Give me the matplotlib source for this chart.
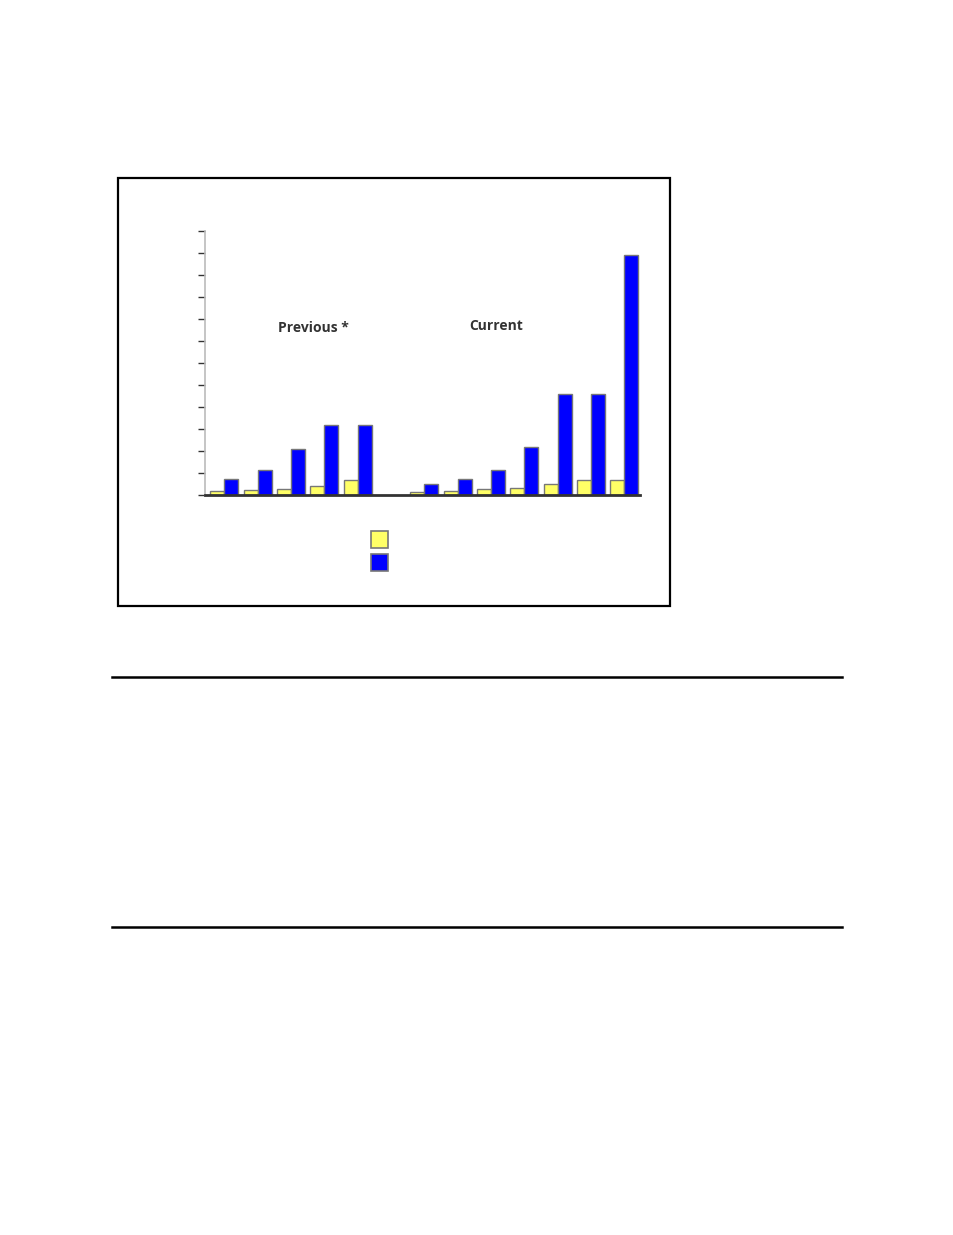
import matplotlib
matplotlib.use("Agg")
import matplotlib.pyplot as plt
from matplotlib.patches import Rectangle
from matplotlib.lines import Line2D

# Data (values in tick units, unlabeled axis)
slots_previous = [0, 1, 2, 3, 4]
slots_current = [6, 7, 8, 9, 10, 11, 12]
previous_yellow = [0.17, 0.21, 0.27, 0.39, 0.67]
previous_blue = [0.71, 1.12, 2.08, 3.17, 3.17]
current_yellow = [0.12, 0.17, 0.27, 0.32, 0.48, 0.68, 0.68]
current_blue = [0.48, 0.71, 1.12, 2.17, 4.58, 4.58, 10.9]
group_labels = ["Previous *", "Current"]

W, H = 954, 1235
fig = plt.figure(figsize=(W / 100, H / 100), dpi=100)
fig.patch.set_facecolor("white")

def fx(px):
    return px / W

def fy(py):
    return 1 - py / H

# Chart frame box
fig.add_artist(Rectangle((fx(118), fy(606)), fx(670) - fx(118), fy(178) - fy(606),
                         transform=fig.transFigure, fill=False, edgecolor="black", linewidth=1.6))

# Horizontal rules
for yy in (677, 927):
    fig.add_artist(Line2D([fx(112), fx(842)], [fy(yy), fy(yy)], transform=fig.transFigure,
                          color="black", linewidth=1.8))

ax = fig.add_axes([fx(205), fy(495), fx(640) - fx(205), fy(231) - fy(495)])
ax.set_facecolor("none")

bw = 0.42
xs = slots_previous + slots_current
ys_yellow = previous_yellow + current_yellow
ys_blue = previous_blue + current_blue
ax.bar([x - bw / 2 for x in xs], ys_yellow, width=bw, color="#ffff66", edgecolor="#777777", linewidth=1.0, zorder=2)
ax.bar([x + bw / 2 for x in xs], ys_blue, width=bw, color="#0000ff", edgecolor="#777777", linewidth=1.0, zorder=2)

ax.set_xlim(-0.58, 12.47)
ax.set_ylim(0, 12)
ax.set_yticks(range(0, 13))
ax.set_yticklabels([])
ax.set_xticks([])
ax.tick_params(axis="y", length=5, width=1, color="#333333", direction="out")
for s in ("top", "right"):
    ax.spines[s].set_visible(False)
ax.spines["left"].set_color("#bbbbbb")
ax.spines["left"].set_linewidth(1.2)
ax.spines["bottom"].set_color("#333333")
ax.spines["bottom"].set_linewidth(2)
ax.spines["bottom"].set_zorder(3)

ax.text(2.66, 7.6, group_labels[0], ha="center", va="center", fontsize=10,
        fontweight="bold", color="#333333", family="Open Sans")
ax.text(8.15, 7.68, group_labels[1], ha="center", va="center", fontsize=10,
        fontweight="bold", color="#333333", family="Open Sans")

# Legend swatches
for (y0, col) in ((531, "#ffff66"), (554, "#0000ff")):
    fig.add_artist(Rectangle((fx(370.5), fy(y0 + 17)), fx(17), fy(0) - fy(17),
                             transform=fig.transFigure, facecolor=col, edgecolor="#777777", linewidth=1.2))

fig.savefig("out.png", dpi=100, facecolor="white")
